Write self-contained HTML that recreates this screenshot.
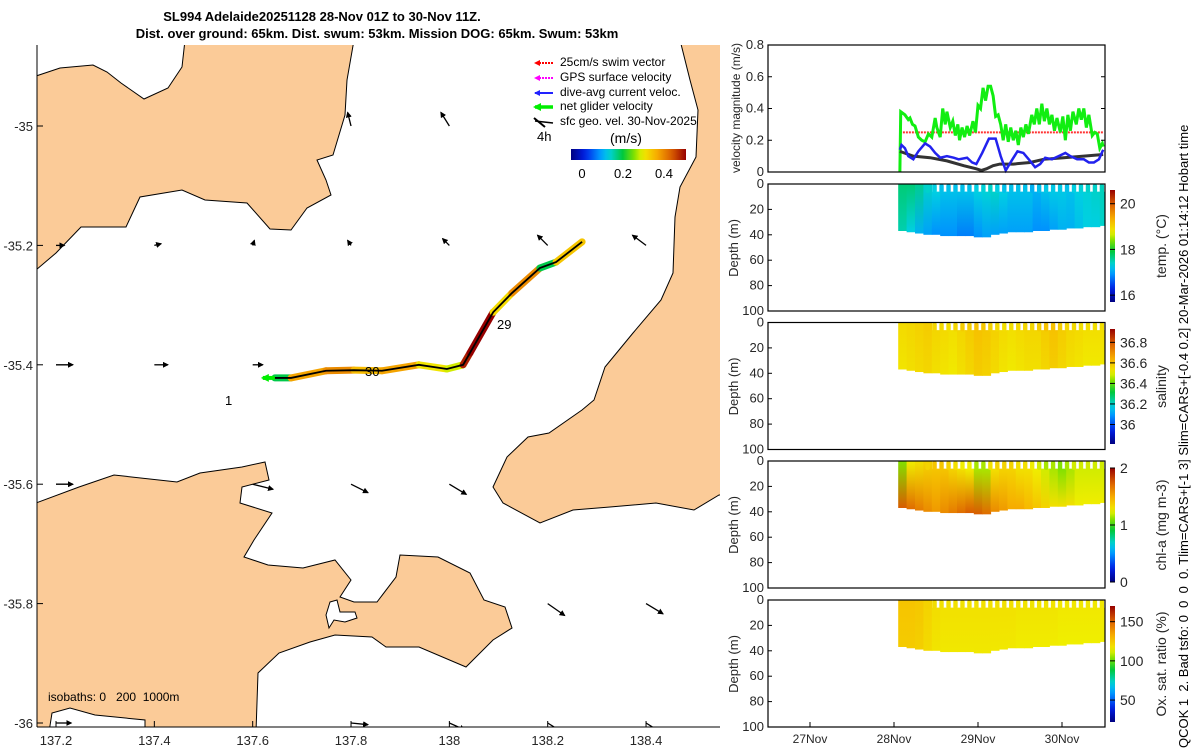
<!DOCTYPE html>
<html><head><meta charset="utf-8"><style>
html,body{margin:0;padding:0;background:#fff}
svg{display:block;font-family:"Liberation Sans","DejaVu Sans",sans-serif}
</style></head><body>
<svg id="fig" width="1200" height="750" viewBox="0 0 1200 750" xmlns="http://www.w3.org/2000/svg">
<defs>
<clipPath id="mapclip"><rect x="37" y="45" width="683" height="682"/></clipPath>
<clipPath id="rclip"><rect x="768" y="45" width="337" height="690"/></clipPath>
<marker id="ah" markerUnits="userSpaceOnUse" markerWidth="6" markerHeight="6" refX="5" refY="3" orient="auto"><path d="M0,0 L6,3 L0,6 z" fill="#000"/></marker>
<marker id="ahr" markerUnits="userSpaceOnUse" markerWidth="6" markerHeight="6" refX="5" refY="3" orient="auto"><path d="M0,0 L6,3 L0,6 z" fill="#f00"/></marker>
<marker id="ahm" markerUnits="userSpaceOnUse" markerWidth="6" markerHeight="6" refX="5" refY="3" orient="auto"><path d="M0,0 L6,3 L0,6 z" fill="#f0f"/></marker>
<marker id="ahb" markerUnits="userSpaceOnUse" markerWidth="6" markerHeight="6" refX="5" refY="3" orient="auto"><path d="M0,0 L6,3 L0,6 z" fill="#22f"/></marker>
<marker id="ahg" markerUnits="userSpaceOnUse" markerWidth="8" markerHeight="8" refX="6" refY="4" orient="auto"><path d="M0,0 L8,4 L0,8 z" fill="#0e0"/></marker>
</defs>
<text x="322" y="21" text-anchor="middle" font-size="13" font-weight="bold">SL994 Adelaide20251128 28-Nov 01Z to 30-Nov 11Z.</text>
<text x="377" y="38" text-anchor="middle" font-size="13" font-weight="bold">Dist. over ground: 65km. Dist. swum: 53km. Mission DOG: 65km. Swum: 53km</text>
<g id="map">
<g clip-path="url(#mapclip)">
<path fill="#fbcb98" stroke="#000" stroke-width="1" d="M36,76 L60,68 L93,65 L107,72 L121,83 L144,99 L168,88 L182,67 L185,40 L354,40 L347,80 L345,115 L333,155 L317,160 L326,180 L331,195 L307,208 L291,230 L270,229 L247,203 L205,200 L182,190 L140,197 L126,227 L81,227 L56,253 L36,270 Z"/>
<path fill="#fbcb98" stroke="#000" stroke-width="1" d="M680,40 L690,80 L698,110 L696,157 L680,187 L675,217 L673,273 L661,300 L633,333 L605,367 L594,400 L582,410 L549,433 L528,437 L507,457 L493,487 L503,503 L540,523 L573,510 L610,507 L656,503 L694,510 L719,495 L725,495 L725,40 Z"/>
<path fill="#fbcb98" stroke="#000" stroke-width="1" d="M36,503 L79,487 L114,475 L177,482 L200,473 L242,467 L265,462 L269,480 L242,487 L240,503 L272,513 L254,540 L244,557 L268,565 L303,568 L335,560 L351,580 L340,597 L354,602 L377,602 L396,577 L400,555 L438,557 L470,573 L484,600 L505,607 L512,628 L493,640 L466,667 L419,647 L386,647 L372,637 L335,635 L310,642 L279,653 L258,673 L256,732 L36,732 Z"/>
<path fill="#fff" stroke="#000" stroke-width="1" d="M49,732 L52,713 L70,708 L95,715 L145,720 L145,732 Z"/>
<path fill="#fff" stroke="#000" stroke-width="1" d="M330,602 L337,600 L340,612 L355,612 L357,618 L345,622 L334,620 L329,628 L326,615 Z"/>
<g id="arrows"></g>
<g id="track"></g>
</g>
<line x1="37" y1="45" x2="37" y2="727" stroke="#000"/>
<line x1="37" y1="727" x2="720" y2="727" stroke="#000"/>
<g id="mapticks" font-size="13" fill="#262626"></g>
<text x="225" y="405" font-size="13">1</text>
<text x="365" y="376" font-size="13">30</text>
<text x="497" y="329" font-size="13">29</text>
<text x="48" y="701" font-size="12" style="white-space:pre">isobaths: 0   200  1000m</text>
<g id="legend" font-size="12">
<line x1="553" y1="63" x2="535" y2="63" stroke="#f00" stroke-width="2" stroke-dasharray="2,1" marker-end="url(#ahr)"/>
<text x="560" y="66">25cm/s swim vector</text>
<line x1="553" y1="78" x2="535" y2="78" stroke="#f0f" stroke-width="2" stroke-dasharray="2,1" marker-end="url(#ahm)"/>
<text x="560" y="81">GPS surface velocity</text>
<line x1="553" y1="93" x2="535" y2="93" stroke="#22f" stroke-width="2" marker-end="url(#ahb)"/>
<text x="560" y="96">dive-avg current veloc.</text>
<line x1="553" y1="107" x2="535" y2="107" stroke="#0e0" stroke-width="3.5" marker-end="url(#ahg)"/>
<text x="560" y="110">net glider velocity</text>
<line x1="553" y1="123" x2="535" y2="121" stroke="#000" stroke-width="1.5"/><line x1="545" y1="127" x2="534" y2="118" stroke="#000" stroke-width="2"/>
<text x="560" y="125">sfc geo. vel. 30-Nov-2025</text>
<text x="537" y="141" font-size="13">4h</text>
<text x="610" y="143" font-size="14">(m/s)</text>
<rect id="mapcb" x="571" y="149" width="115" height="11"/>
<text x="582" y="178" text-anchor="middle" font-size="13">0</text>
<text x="623" y="178" text-anchor="middle" font-size="13">0.2</text>
<text x="664" y="178" text-anchor="middle" font-size="13">0.4</text>
</g>
</g>
<g id="right" font-size="12" fill="#262626"></g>
<text transform="translate(1188,748) rotate(-90)" font-size="13" fill="#000" style="white-space:pre">QCOK 1  2. Bad tsfo: 0  0  0  0. Tlim=CARS+[-1 3] Slim=CARS+[-0.4 0.2] 20-Mar-2026 01:14:12 Hobart time</text>
</svg>
<script>
// ---------- data ----------
const greenT=[28.07,28.08,28.13,28.17,28.19,28.22,28.25,28.29,28.33,28.37,28.41,28.45,28.49,28.51,28.55,28.58,28.61,28.63,28.67,28.70,28.73,28.76,28.78,28.81,28.84,28.87,28.90,28.94,28.97,29.00,29.03,29.06,29.09,29.12,29.15,29.18,29.21,29.24,29.27,29.30,29.33,29.36,29.39,29.42,29.45,29.48,29.51,29.54,29.57,29.60,29.64,29.67,29.70,29.73,29.76,29.79,29.82,29.85,29.88,29.91,29.94,29.98,30.01,30.04,30.07,30.10,30.13,30.17,30.20,30.23,30.26,30.29,30.32,30.36,30.39,30.42,30.45,30.48,30.49];
const greenV=[0,0.38,0.36,0.33,0.34,0.30,0.29,0.22,0.20,0.19,0.24,0.22,0.34,0.28,0.22,0.40,0.30,0.38,0.28,0.32,0.23,0.30,0.20,0.28,0.22,0.29,0.23,0.32,0.25,0.42,0.40,0.53,0.45,0.54,0.54,0.48,0.35,0.36,0.30,0.20,0.30,0.19,0.28,0.20,0.26,0.17,0.28,0.22,0.30,0.24,0.36,0.30,0.40,0.30,0.43,0.32,0.40,0.30,0.36,0.26,0.34,0.25,0.35,0.20,0.36,0.26,0.38,0.30,0.40,0.33,0.40,0.28,0.36,0.23,0.25,0.24,0.15,0.18,0.16];
const redT=[28.07,30.49];
const redV=[0.25,0.25];
const blueT=[28.07,28.09,28.13,28.17,28.23,28.29,28.37,28.43,28.49,28.55,28.63,28.71,28.77,28.87,28.93,28.98,29.05,29.13,29.21,29.27,29.33,29.41,29.47,29.54,29.62,29.68,29.74,29.80,29.88,29.96,30.04,30.10,30.18,30.26,30.32,30.38,30.44,30.49];
const blueV=[0.14,0.17,0.15,0.10,0.08,0.13,0.18,0.16,0.12,0.09,0.10,0.09,0.08,0.09,0.06,0.05,0.12,0.21,0.21,0.10,0.01,0.08,0.13,0.12,0.07,0.03,0.05,0.09,0.08,0.10,0.12,0.10,0.08,0.08,0.06,0.06,0.08,0.14];
const blackT=[28.07,28.23,28.43,28.63,28.83,28.98,29.04,29.10,29.18,29.26,29.42,29.62,29.78,30.02,30.26,30.49];
const blackV=[0.13,0.10,0.09,0.07,0.04,0.02,0.01,0.02,0.04,0.05,0.05,0.06,0.08,0.09,0.10,0.11];
const dateTicks=["27Nov","28Nov","29Nov","30Nov"];
const dateTickVals=[27,28,29,30];
const velTicks=[0,0.2,0.4,0.6,0.8];
const depthTicks=[0,20,40,60,80,100];
const secT=[28.05,28.15,28.25,28.35,28.45,28.55,28.65,28.75,28.85,28.95,29.05,29.15,29.25,29.35,29.45,29.55,29.65,29.75,29.85,29.95,30.05,30.15,30.25,30.35,30.45];
const secBottom=[37,38,39,40,40,41,41,41,41,42,42,40,39,38,38,38,37,37,36,36,35,35,34,34,33];
const tempTop=[17.7,17.7,17.6,17.4,17.3,17.2,17.2,17.2,17.2,17.3,17.35,17.4,17.3,17.2,17.2,17.2,17.1,17.2,17.25,17.25,17.2,17.3,17.35,17.4,17.45];
const tempBot=[17.5,17.3,17.1,17.0,16.9,16.9,16.9,16.8,16.8,16.9,17.0,17.0,17.0,17.0,17.0,17.0,16.9,16.9,17.0,17.1,17.1,17.2,17.3,17.3,17.4];
const salTop=[36.55,36.56,36.57,36.58,36.56,36.55,36.54,36.56,36.58,36.60,36.59,36.57,36.55,36.54,36.55,36.56,36.56,36.58,36.60,36.58,36.56,36.55,36.54,36.54,36.54];
const salBot=[36.53,36.54,36.55,36.56,36.54,36.53,36.52,36.54,36.56,36.58,36.57,36.55,36.53,36.52,36.53,36.54,36.54,36.56,36.58,36.56,36.54,36.53,36.52,36.52,36.52];
const chlTop=[1.1,1.25,1.3,1.35,1.4,1.4,1.35,1.3,1.25,1.15,1.15,1.3,1.35,1.35,1.3,1.3,1.25,1.2,1.15,1.1,1.15,1.2,1.2,1.2,1.2];
const chlBot=[1.75,1.7,1.65,1.6,1.55,1.6,1.65,1.7,1.75,1.75,1.7,1.6,1.55,1.5,1.5,1.45,1.4,1.35,1.3,1.3,1.3,1.25,1.25,1.25,1.25];
const oxTop=[126,126,125,122,119,118,118,118,118,118,118,118,118,118,117,117,117,117,117,116,116,116,116,116,116];
const oxBot=[124,124,123,120,117,116,116,116,116,116,116,116,116,116,115,115,115,115,115,114,114,114,114,114,114];
const trackLon=[137.645,137.678,137.749,137.806,137.863,137.938,137.995,138.028,138.042,138.089,138.127,138.184,138.217,138.270];
const trackLat=[-35.422,-35.422,-35.410,-35.409,-35.410,-35.400,-35.407,-35.400,-35.380,-35.312,-35.280,-35.238,-35.228,-35.194];
const trackSpeed=[0.22,0.38,0.40,0.36,0.38,0.32,0.30,0.48,0.50,0.33,0.40,0.22,0.35,0.05];
const arrLon=[137.8,138.0,137.2,137.4,137.6,137.8,138.0,138.2,138.4,137.2,137.4,137.6,137.2,137.6,137.8,138.0,138.2,138.4,137.2,137.8,138.0,138.2,138.4];
const arrLat=[-35,-35,-35.2,-35.2,-35.2,-35.2,-35.2,-35.2,-35.2,-35.4,-35.4,-35.4,-35.6,-35.6,-35.6,-35.6,-35.8,-35.8,-36,-36,-36,-36,-36];
const arrU=[-0.02,-0.05,0.05,0.04,0.01,-0.02,-0.04,-0.06,-0.08,0.1,0.08,0.06,0.1,0.12,0.1,0.1,0.1,0.1,0.09,0.1,0.09,0.08,0.08];
const arrV=[0.08,0.08,0,0.01,0.03,0.03,0.04,0.06,0.06,0,0,0,0,-0.03,-0.05,-0.06,-0.07,-0.06,0,-0.01,-0.04,-0.05,-0.05];
const lonTicks=[137.2,137.4,137.6,137.8,138,138.2,138.4];
const latTicks=[-35,-35.2,-35.4,-35.6,-35.8,-36];

// ---------- helpers ----------
const NS="http://www.w3.org/2000/svg";
function mk(tag,attrs,parent){const e=document.createElementNS(NS,tag);for(const k in attrs)e.setAttribute(k,attrs[k]);parent.appendChild(e);return e;}
const stops=[[0,[0,0,128]],[0.12,[0,30,230]],[0.25,[0,150,255]],[0.33,[0,210,225]],[0.45,[0,200,60]],[0.55,[130,225,0]],[0.62,[240,240,0]],[0.74,[248,176,0]],[0.87,[220,96,0]],[1,[150,0,0]]];
function cmap(f){f=Math.max(0,Math.min(1,f));for(let i=1;i<stops.length;i++){if(f<=stops[i][0]){const a=stops[i-1],b=stops[i],t=(f-a[0])/(b[0]-a[0]);const c=a[1].map((v,j)=>Math.round(v+(b[1][j]-v)*t));return `rgb(${c[0]},${c[1]},${c[2]})`;}}return "rgb(150,0,0)";}
const defs=document.querySelector('defs');
function gradH(id){const g=mk('linearGradient',{id:id,x1:0,y1:1,x2:0,y2:0},defs);for(let i=0;i<=20;i++)mk('stop',{offset:i/20,'stop-color':cmap(i/20)},g);}
function gradX(id){const g=mk('linearGradient',{id:id,x1:0,y1:0,x2:1,y2:0},defs);for(let i=0;i<=20;i++)mk('stop',{offset:i/20,'stop-color':cmap(i/20)},g);}
gradH('cbv');gradX('cbh');
document.getElementById('mapcb').setAttribute('fill','url(#cbh)');

// ---------- map ----------
const lonX=l=>56+(l-137.2)*491.7;
const latY=l=>126-(l+35)*597;
const mt=document.getElementById('mapticks');
lonTicks.forEach(l=>{const x=lonX(l);
 const t=mk('line',{x1:x,y1:727,x2:x,y2:721,stroke:'#000'},mt);
 
 
 const s=mk('text',{x:x,y:745,'text-anchor':'middle'},mt);s.textContent=String(l);
 
 });
latTicks.forEach(l=>{const y=latY(l);
 mk('line',{x1:37,y1:y,x2:43,y2:y,stroke:'#000'},mt);
 const s=mk('text',{x:33,y:y+5,'text-anchor':'end'},mt);s.textContent=String(l);
 
 });
const ag=document.getElementById('arrows');
arrLon.forEach((l,i)=>{const x=lonX(l),y=latY(arrLat[i]);const s=170;
 const a=mk('line',{x1:x,y1:y,x2:x+arrU[i]*s,y2:y-arrV[i]*s,stroke:'#000','stroke-width':1.3,'marker-end':'url(#ah)'},ag);
 
 });
const tg=document.getElementById('track');
for(let i=0;i<trackLon.length-1;i++){
 const s=mk('line',{x1:lonX(trackLon[i]),y1:latY(trackLat[i]),x2:lonX(trackLon[i+1]),y2:latY(trackLat[i+1]),stroke:cmap(trackSpeed[i]/0.5),'stroke-width':7,'stroke-linecap':'round'},tg);
 
 }
const tp=mk('polyline',{points:trackLon.map((l,i)=>lonX(l)+','+latY(trackLat[i])).join(' '),fill:'none',stroke:'#000','stroke-width':1.8},tg);


const st=mk('line',{x1:lonX(trackLon[0]),y1:latY(trackLat[0]),x2:lonX(trackLon[0])-12,y2:latY(trackLat[0]),stroke:'#0e0','stroke-width':4,'marker-end':'url(#ahg)'},tg);



// ---------- right panels ----------
const R=document.getElementById('right');
const X0=768,X1=1105;
const tX=d=>894+(d-28)*84;
function axisBox(y0,y1,name){const b=mk('rect',{x:X0,y:y0,width:X1-X0,height:y1-y0,fill:'none',stroke:'#000','stroke-width':1.2},R);
 
 }
const vY=v=>172-v/0.8*127;
const vg=mk('g',{'clip-path':'url(#rclip)'},R);
function vline(T,V,col,w,dash,name){const p=mk('polyline',{points:T.map((t,i)=>tX(t)+','+vY(V[i])).join(' '),fill:'none',stroke:col,'stroke-width':w},vg);if(dash)p.setAttribute('stroke-dasharray',dash);
 
 }
vline(redT,redV,'#f33',2,'2,1','swim-speed-line');
vline(greenT,greenV,'#1e1',3,null,'net-glider-speed-line');
vline(blackT,blackV,'#333',3,null,'surface-geo-speed-line');
vline(blueT,blueV,'#22e',2.5,null,'dive-avg-current-line');
axisBox(45,172,'velocity-axes');
velTicks.forEach(v=>{const y=vY(v);mk('line',{x1:X0,y1:y,x2:X0+4,y2:y,stroke:'#000'},R);mk('line',{x1:X1,y1:y,x2:X1-4,y2:y,stroke:'#000'},R);
 const s=mk('text',{x:X0-4,y:y+4,'text-anchor':'end','font-size':13},R);s.textContent=String(v);
 
 });
const vt=mk('text',{transform:'translate(740,108) rotate(-90)','text-anchor':'middle','font-size':12},R);vt.textContent='velocity magnitude (m/s)';



const panels=[
 {y0:184,top:tempTop,bot:tempBot,lo:15.7,hi:20.6,cb:[190,302],ticks:[16,18,20],label:'temp. (°C)',name:'temperature'},
 {y0:322.5,top:salTop,bot:salBot,lo:35.81,hi:36.93,cb:[329,444],ticks:[36,36.2,36.4,36.6,36.8],label:'salinity',name:'salinity'},
 {y0:461,top:chlTop,bot:chlBot,lo:0,hi:2,cb:[468,582],ticks:[0,1,2],label:'chl-a (mg m-3)',name:'chlorophyll'},
 {y0:600,top:oxTop,bot:oxBot,lo:22,hi:170,cb:[606,722],ticks:[50,100,150],label:'Ox. sat. ratio (%)',name:'oxygen'}];
const bumpStart=28.4, bumpStep=0.083;
panels.forEach((P,pi)=>{
 const y0=P.y0,H=127,dY=d=>y0+d/100*H;
 const g=mk('g',{'clip-path':'url(#rclip)'},R);
 
 
 secT.forEach((t,i)=>{
  const gid='g'+pi+'_'+i;const lg=mk('linearGradient',{id:gid,x1:0,y1:0,x2:0,y2:1},defs);
  mk('stop',{offset:0,'stop-color':cmap((P.top[i]-P.lo)/(P.hi-P.lo))},lg);
  mk('stop',{offset:1,'stop-color':cmap((P.bot[i]-P.lo)/(P.hi-P.lo))},lg);
  const x=tX(t),w=tX(t+0.1)-x+0.5,top=t<bumpStart?0:6;
  const r=mk('rect',{x:x,y:dY(top),width:w,height:dY(secBottom[i])-dY(top),fill:'url(#'+gid+')'},g);
  
  
 });
 for(let t=bumpStart;t<30.5;t+=bumpStep){const k=Math.min(secT.length-1,Math.max(0,Math.round((t-28.05)/0.1)));
  mk('rect',{x:tX(t)-2.2,y:dY(0),width:4.4,height:dY(7)-dY(0),rx:2,fill:cmap((P.top[k]-P.lo)/(P.hi-P.lo))},g);}
 axisBox(y0,y0+H,P.name+'-axes');
 depthTicks.forEach(d=>{const y=dY(d);mk('line',{x1:X0,y1:y,x2:X0+4,y2:y,stroke:'#000'},R);
  const s=mk('text',{x:X0-4,y:y+4,'text-anchor':'end','font-size':13},R);s.textContent=String(d);
  
  });
 const dt=mk('text',{transform:`translate(738,${y0+64}) rotate(-90)`,'text-anchor':'middle','font-size':13},R);dt.textContent='Depth (m)';
 
 
 const cb=mk('rect',{x:1110,y:P.cb[0],width:5,height:P.cb[1]-P.cb[0],fill:'url(#cbv)'},R);
 
 
 P.ticks.forEach(v=>{const y=P.cb[1]-(v-P.lo)/(P.hi-P.lo)*(P.cb[1]-P.cb[0]);
  mk('line',{x1:1110,y1:y,x2:1115,y2:y,stroke:'#000'},R);
  const s=mk('text',{x:1120,y:y+5,'font-size':14},R);s.textContent=String(v);
  
  });
 const cl=mk('text',{transform:`translate(1166,${(P.cb[0]+P.cb[1])/2}) rotate(-90)`,'text-anchor':'middle','font-size':14},R);cl.textContent=P.label;
 
 
});
dateTickVals.forEach((d,i)=>{const x=tX(d);mk('line',{x1:x,y1:727,x2:x,y2:722,stroke:'#000'},R);
 const s=mk('text',{x:x,y:743,'text-anchor':'middle','font-size':12},R);s.textContent=dateTicks[i];
 
 });
</script>
</body></html>
